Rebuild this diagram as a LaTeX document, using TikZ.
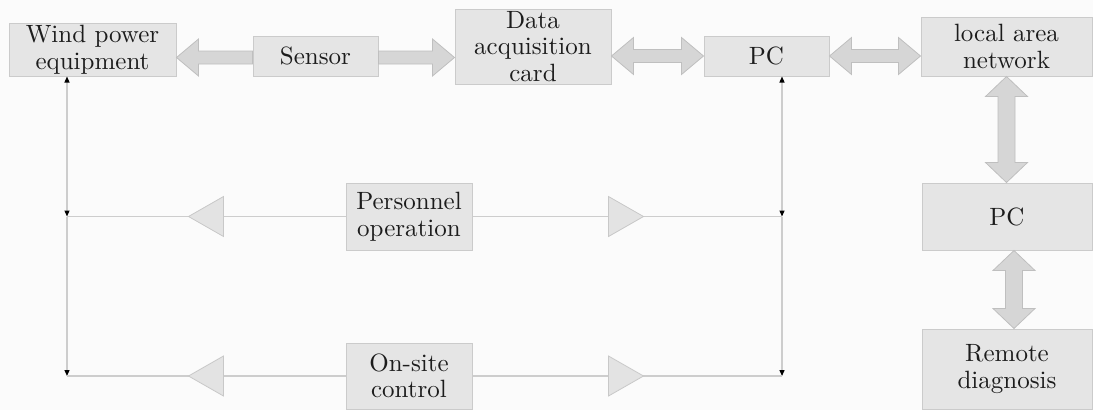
\documentclass[tikz,border=0pt]{standalone}
\usepackage{fontspec}
\newfontfamily\lmten{lmroman10-regular.otf}
\usetikzlibrary{arrows.meta,calc,decorations.markings}
\definecolor{boxfill}{HTML}{E5E5E5}
\definecolor{boxline}{HTML}{CBCBCB}
\definecolor{arrfill}{HTML}{D6D6D6}
\definecolor{arrline}{HTML}{BFBFBF}
\definecolor{txt}{HTML}{1C1C1C}
\definecolor{thinline}{HTML}{CDCDCD}
\definecolor{bgc}{HTML}{FBFBFB}
\definecolor{trifill}{HTML}{E3E3E3}
\definecolor{triline}{HTML}{C8C8C8}

% fat double horizontal arrow: tips at #1 (left) and #2 (right)
\newcommand{\fatDH}[2]{\path[fat] let \p1=(#1), \p2=(#2) in
  (\x1,\y1) -- (\x1+22pt,\y1+18.5pt) -- (\x1+22pt,\y1+6.5pt) -- (\x2-22pt,\y1+6.5pt)
  -- (\x2-22pt,\y1+18.5pt) -- (\x2,\y1) -- (\x2-22pt,\y1-18.5pt) -- (\x2-22pt,\y1-6.5pt)
  -- (\x1+22pt,\y1-6.5pt) -- (\x1+22pt,\y1-18.5pt) -- cycle;}
% fat arrow pointing left: tip at #1, tail at #2
\newcommand{\fatL}[2]{\path[fat] let \p1=(#1), \p2=(#2) in
  (\x1,\y1) -- (\x1+22pt,\y1+18.5pt) -- (\x1+22pt,\y1+6.5pt) -- (\x2,\y1+6.5pt)
  -- (\x2,\y1-6.5pt) -- (\x1+22pt,\y1-6.5pt) -- (\x1+22pt,\y1-18.5pt) -- cycle;}
% fat arrow pointing right: tail at #1, tip at #2
\newcommand{\fatR}[2]{\path[fat] let \p1=(#1), \p2=(#2) in
  (\x1,\y1+6.5pt) -- (\x2-22pt,\y1+6.5pt) -- (\x2-22pt,\y1+18.5pt) -- (\x2,\y1)
  -- (\x2-22pt,\y1-18.5pt) -- (\x2-22pt,\y1-6.5pt) -- (\x1,\y1-6.5pt) -- cycle;}
% fat double vertical arrow: tips at #1 (top) and #2 (bottom)
\newcommand{\fatDV}[2]{\path[fat] let \p1=(#1), \p2=(#2) in
  (\x1,\y1) -- (\x1+21pt,\y1-20pt) -- (\x1+8.5pt,\y1-20pt) -- (\x1+8.5pt,\y2+20pt)
  -- (\x1+21pt,\y2+20pt) -- (\x1,\y2) -- (\x1-21pt,\y2+20pt) -- (\x1-8.5pt,\y2+20pt)
  -- (\x1-8.5pt,\y1-20pt) -- (\x1-21pt,\y1-20pt) -- cycle;}

\begin{document}
\begin{tikzpicture}[x=1pt,y=-1pt,
  blk/.style={draw=boxline, fill=boxfill, line width=1pt, text=txt, align=center,
    inner sep=0pt, font=\lmten\fontsize{25}{26.5}\selectfont},
  fat/.style={draw=arrline, fill=arrfill, line width=0.8pt, line join=miter},
  wire/.style={draw=thinline, line width=1.3pt},
  blk tip/.style={-{Triangle[length=6pt,width=5pt,color=black]}},
  both tips/.style={{Triangle[length=6pt,width=5pt,color=black]}-{Triangle[length=6pt,width=5pt,color=black]}},
  tri/.style={draw=triline, fill=trifill, line width=0.8pt, line join=miter},
  tri at/.style={postaction={decorate}, decoration={markings,
    mark=at position #1 with {\path[tri] (0pt,20pt) -- (35pt,0pt) -- (0pt,-20pt) -- cycle;}}}
]
\fill[bgc] (0,0) rectangle (1093,410);
\useasboundingbox (0,0) rectangle (1093,410);

% boxes
\node[blk, minimum width=167pt, minimum height=53pt] (wind)   at (92.5,49.5) {Wind power\\equipment};
\node[blk, minimum width=125pt, minimum height=40pt] (sensor) at (315.5,56)  {Sensor};
\node[blk, minimum width=156pt, minimum height=75pt] (daq)    at (533,46.5)  {Data\\acquisition\\card};
\node[blk, minimum width=125pt, minimum height=40pt] (pc1)    at (766.5,56)  {PC};
\node[blk, minimum width=171pt, minimum height=59pt] (lan)    at (1006.5,46.5) {local area\\network};
\node[blk, minimum width=170pt, minimum height=67pt] (pc2)    at (1007,216.5) {PC};
\node[blk, minimum width=170pt, minimum height=80pt] (remote) at (1007,369)   {Remote\\diagnosis};
\node[blk, minimum width=126pt, minimum height=67pt] (pers)   at (409,216.5) {Personnel\\operation};
\node[blk, minimum width=126pt, minimum height=66pt] (onsite) at (409,376)   {On-site\\control};

% fat arrows
\coordinate (sw) at ($(sensor.west)+(0,1.5)$);
\coordinate (se) at ($(sensor.east)+(0,1.5)$);
\fatL{wind.east |- sw}{sw}
\fatR{se}{daq.west |- se}
\fatDH{daq.east |- pc1.west}{pc1.west}
\fatDH{pc1.east}{lan.west |- pc1.east}
\fatDV{lan.south}{pc2.north}
\fatDV{[xshift=7pt]pc2.south}{[xshift=7pt]remote.north}

% thin wires
\coordinate (wl) at ([xshift=-25.5pt]wind.south);
\coordinate (j1) at (wl |- pers.west);
\coordinate (j2) at (wl |- onsite.west);
\coordinate (wr) at ([xshift=15.5pt]pc1.south);
\coordinate (j3) at (wr |- pers.east);
\coordinate (j4) at (wr |- onsite.east);

\draw[wire, both tips] (wl) -- (j1);
\draw[wire, blk tip] (j1) -- (j2);
\draw[wire, both tips] (wr) -- (j3);
\draw[wire, blk tip] (j3) -- (j4);

\draw[wire, tri at=122pt] (pers.west) -- (j1);
\draw[wire, tri at=136pt] (pers.east) -- (j3);
\draw[wire, tri at=122pt] (onsite.west) -- (j2);
\draw[wire, tri at=136pt] (onsite.east) -- (j4);
\end{tikzpicture}
\end{document}
